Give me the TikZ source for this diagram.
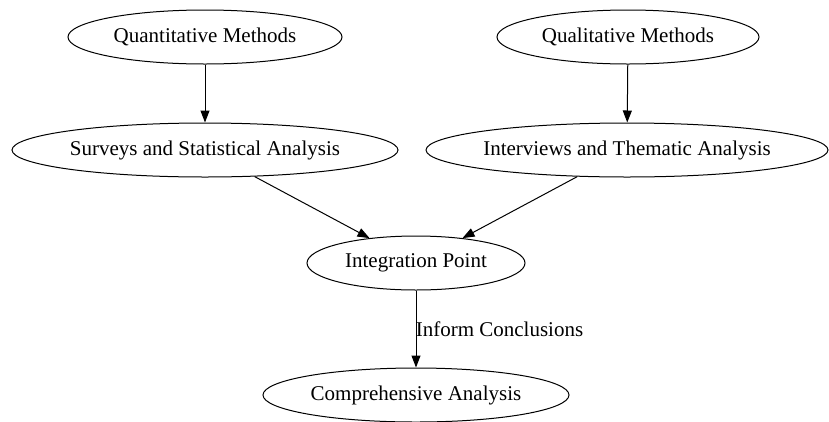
\documentclass[tikz,border=0pt]{standalone}
\usepackage{fontspec}
\setmainfont{Liberation Serif}
\usetikzlibrary{shapes.geometric,arrows.meta}
\begin{document}
\begin{tikzpicture}[x=1pt,y=-1pt,
  ell/.style={draw, ellipse, inner xsep=-4pt, inner ysep=0pt, minimum height=54pt, font=\fontsize{21}{23}\selectfont, line width=1pt},
  arr/.style={-{Triangle[length=12pt,width=9pt]}, line width=1pt}]
\useasboundingbox (0,0) rectangle (829,421);
\node[ell, minimum width=274pt] (qm) at (205,37) {Quantitative Methods};
\node[ell, minimum width=262pt] (ql) at (628,37) {Qualitative Methods};
\node[ell, minimum width=386pt] (sa) at (205,150) {Surveys and Statistical Analysis};
\node[ell, minimum width=402pt] (it) at (627,150) {Interviews and Thematic Analysis};
\node[ell, minimum width=218pt] (ip) at (416,263) {Integration Point};
\node[ell, minimum width=306pt] (ca) at (416,395) {Comprehensive Analysis};
\draw[arr] (qm) -- (sa);
\draw[arr] (ql) -- (it);
\draw[arr] (sa) -- (ip);
\draw[arr] (it) -- (ip);
\draw[arr] (ip) -- node[right, xshift=-4pt, font=\fontsize{21}{23}\selectfont] (lbl) {Inform Conclusions} (ca);
\end{tikzpicture}
\end{document}
